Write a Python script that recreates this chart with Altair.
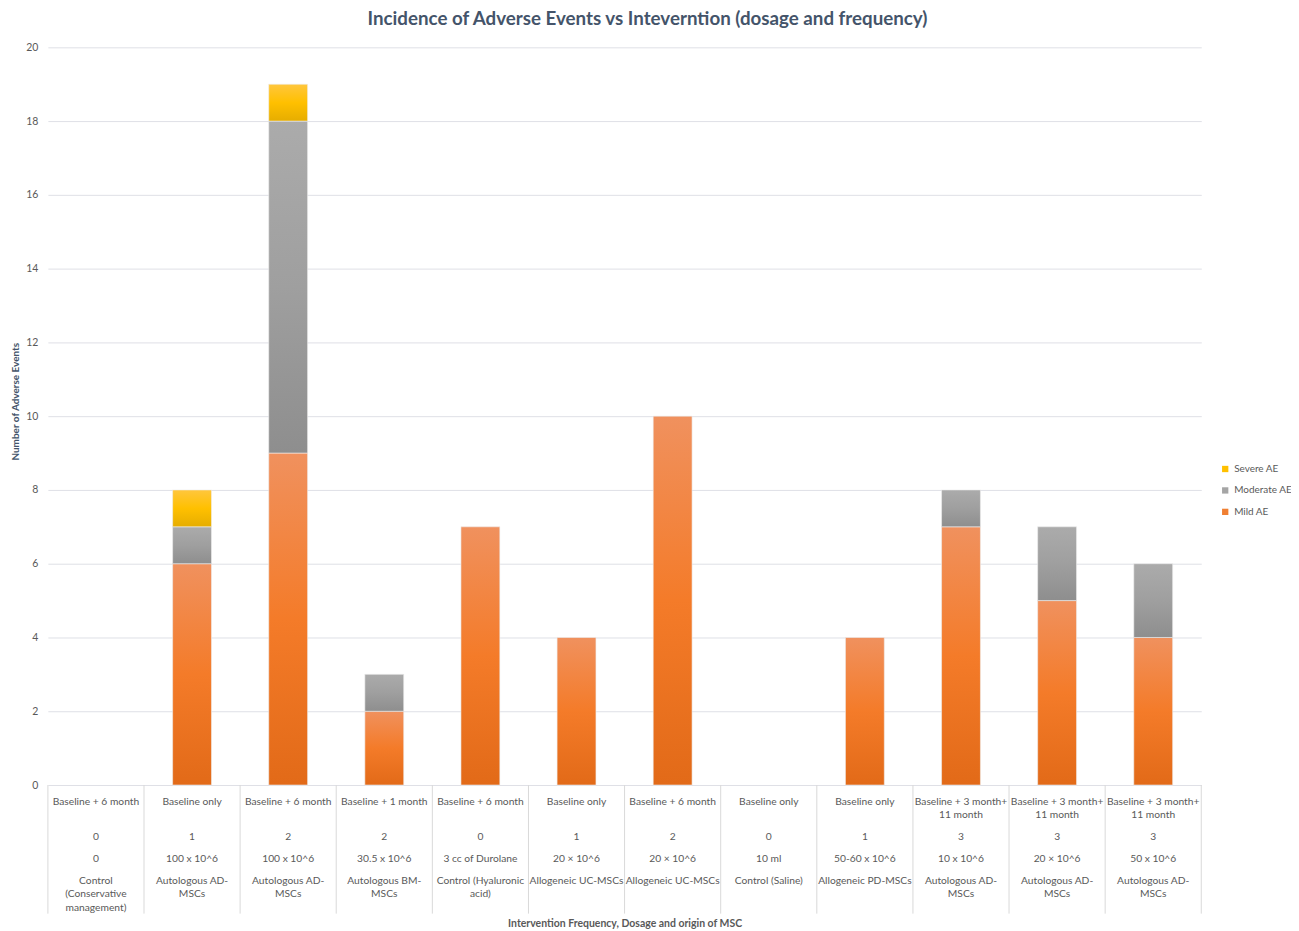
import altair as alt
import pandas as pd

frequency = ["Baseline + 6 month", "Baseline only", "Baseline + 6 month", "Baseline + 1 month",
             "Baseline + 6 month", "Baseline only", "Baseline + 6 month", "Baseline only",
             "Baseline only", "Baseline + 3 month+\n11 month", "Baseline + 3 month+\n11 month",
             "Baseline + 3 month+\n11 month"]
injections = ["0", "1", "2", "2", "0", "1", "2", "0", "1", "3", "3", "3"]
dosage = ["0", "100 x 10^6", "100 x 10^6", "30.5 x 10^6", "3 cc of Durolane", "20 × 10^6",
          "20 × 10^6", "10 ml", "50-60 x 10^6", "10 x 10^6", "20 × 10^6", "50 x 10^6"]
origin = ["Control\n(Conservative\nmanagement)", "Autologous AD-\nMSCs", "Autologous AD-\nMSCs",
          "Autologous BM-\nMSCs", "Control (Hyaluronic\nacid)", "Allogeneic UC-MSCs",
          "Allogeneic UC-MSCs", "Control (Saline)", "Allogeneic PD-MSCs", "Autologous AD-\nMSCs",
          "Autologous AD-\nMSCs", "Autologous AD-\nMSCs"]
mild = [0, 6, 9, 2, 7, 4, 10, 0, 4, 7, 5, 4]
moderate = [0, 1, 9, 1, 0, 0, 0, 0, 0, 1, 2, 2]
severe = [0, 1, 1, 0, 0, 0, 0, 0, 0, 0, 0, 0]

series_names = ["Mild AE", "Moderate AE", "Severe AE"]
legend_order = ["Severe AE", "Moderate AE", "Mild AE"]
legend_colors = ["#f07f32", "#a5a5a5", "#ffc000"]

keys = [f"g{i}" for i in range(len(mild))]

cat = pd.DataFrame({"key": keys, "frequency": frequency, "injections": injections,
                    "dosage": dosage, "origin": origin})

rows = []
for i, k in enumerate(keys):
    base = 0
    for name, vals in zip(series_names, [mild, moderate, severe]):
        v = vals[i]
        rows.append({"key": k, "series": name, "start": base, "end": base + v, "value": v})
        base += v
seg = pd.DataFrame(rows)

W, H = 1157, 740
FONT = "Lato"
TXT = "#595959"

xscale = alt.Scale(domain=keys, paddingInner=0, paddingOuter=0)
x_enc = alt.X("key:N", scale=xscale,
              axis=alt.Axis(labels=False, ticks=False, domain=False, grid=False,
                            title="Intervention Frequency, Dosage and origin of MSC",
                            titleFontSize=10.5, titleFontWeight="bold", titleColor=TXT,
                            titleFont=FONT, titlePadding=134))
yscale = alt.Scale(domain=[0, 20], nice=False)


def grad(top, mid, bottom):
    return alt.Gradient(gradient="linear",
                        stops=[alt.GradientStop(color=top, offset=0),
                               alt.GradientStop(color=mid, offset=0.5),
                               alt.GradientStop(color=bottom, offset=1)],
                        x1=0, x2=0, y1=0, y2=1)


grads = {
    "Mild AE": grad("#f0915e", "#f47b29", "#e26a18"),
    "Moderate AE": grad("#ababab", "#9f9f9f", "#8e8e8e"),
    "Severe AE": grad("#ffc63d", "#ffc000", "#e6ad00"),
}

base = alt.Chart(seg)

bars = []
for name in series_names:
    b = base.transform_filter(
        (alt.datum.series == name) & (alt.datum.value > 0)
    ).mark_bar(size=39, color=grads[name], stroke="#eeeeee", strokeWidth=0.6).encode(
        x=x_enc,
        y=alt.Y("start:Q", scale=yscale,
                axis=alt.Axis(values=list(range(0, 21, 2)), title="Number of Adverse Events",
                              titleFontSize=10, titleFontWeight="bold", titleColor="#44546a",
                              titleFont=FONT, titleX=-32, titleY=355, titleAngle=-90,
                              titleAlign="center", titleBaseline="middle",
                              labelFont=FONT, labelFontSize=10.5, labelColor=TXT,
                              labelPadding=10, ticks=False, domain=False,
                              gridColor="#dfe0e6", gridWidth=1)),
        y2="end:Q",
    )
    bars.append(b)

legend_layer = base.mark_point(shape="square", filled=True, opacity=0).encode(
    x=alt.X("key:N", scale=xscale),
    y=alt.value(0),
    color=alt.Color("series:N",
                    scale=alt.Scale(domain=series_names, range=legend_colors),
                    legend=alt.Legend(title=None, orient="none", legendX=1176, legendY=418,
                                      values=legend_order,
                                      symbolType="square", symbolSize=40, symbolOpacity=1,
                                      symbolStrokeWidth=0,
                                      labelFont=FONT, labelFontSize=10, labelColor=TXT,
                                      rowPadding=11.5, labelOffset=4)),
)

catc = alt.Chart(cat)


def row_text(field, offset):
    return catc.mark_text(font=FONT, fontSize=10.3, color=TXT, baseline="top", align="center",
                          lineBreak="\n", lineHeight=13.5).encode(
        x=alt.X("key:N", scale=xscale, bandPosition=0.5),
        y=alt.value(H + offset),
        text=f"{field}:N",
    )


t1 = row_text("frequency", 12)
t2 = row_text("injections", 47)
t3 = row_text("dosage", 69)
t4 = row_text("origin", 91)

vlines = catc.mark_rule(color="#d9d9d9", strokeWidth=1).encode(
    x=alt.X("key:N", scale=xscale, bandPosition=0),
    y=alt.value(H),
    y2=alt.value(H + 129),
)
vline_end = catc.transform_filter(alt.datum.key == keys[-1]).mark_rule(
    color="#d9d9d9", strokeWidth=1).encode(
    x=alt.X("key:N", scale=xscale, bandPosition=1),
    y=alt.value(H),
    y2=alt.value(H + 129),
)

chart = alt.layer(*bars, legend_layer, vlines, vline_end, t1, t2, t3, t4).properties(
    width=W, height=H,
    background="white",
    autosize=alt.AutoSizeParams(type="none"),
    padding={"left": 40, "top": 38, "right": 90, "bottom": 145},
    title=alt.TitleParams("Incidence of Adverse Events vs Inteverntion (dosage and frequency)",
                          font=FONT, fontSize=18.8, fontWeight="bold", color="#44546a",
                          anchor="middle", dx=23, offset=14),
).configure_view(strokeWidth=0)

chart.save("out.html", embed_options={"renderer": "svg", "actions": False})
